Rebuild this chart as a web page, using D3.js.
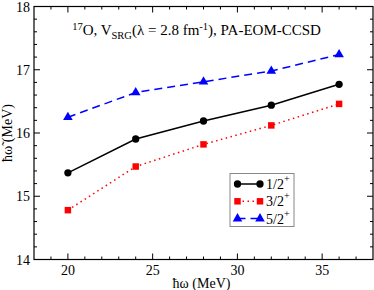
<!DOCTYPE html>
<meta charset="utf-8">
<style>
body { margin: 0; background: #fff; }
text { font-family: "Liberation Serif", "Times New Roman", serif; fill: #000; }
</style>
<body>
<script src="https://cdn.jsdelivr.net/npm/d3@7"></script>
<script>

// hbar omega values (MeV)
var hw = [20, 24, 28, 32, 36];

// energies for each state (MeV)
var e12 = [15.37, 15.905, 16.19, 16.44, 16.77];
var e32 = [14.78, 15.47, 15.82, 16.12, 16.46];
var e52 = [16.25, 16.64, 16.81, 16.98, 17.24];

var xTicks = [20, 25, 30, 35];
var yTicks = [14, 15, 16, 17, 18];

var series = [
  {name: "1/2", vals: e12, color: "#000", dash: null, shape: d3.symbolCircle, size: 42},
  {name: "3/2", vals: e32, color: "#ff0000", dash: "1.5,3.5", shape: d3.symbolSquare, size: 42},
  {name: "5/2", vals: e52, color: "#0000ff", dash: "8,5", shape: d3.symbolTriangle, size: 40}
];

var margin = {top: 6.5, right: 1, bottom: 30.5, left: 34},
    W = 374, H = 290,
    width = W - margin.left - margin.right,
    height = H - margin.top - margin.bottom;

var x = d3.scaleLinear().domain([18, 38]).range([0, width]);
var y = d3.scaleLinear().domain([14, 18]).range([height, 0]);

var svg = d3.select("body").append("svg")
    .attr("width", W).attr("height", H)
  .append("g")
    .attr("transform", "translate(" + margin.left + "," + margin.top + ")");

// frame
svg.append("rect")
    .attr("width", width).attr("height", height)
    .attr("fill", "none").attr("stroke", "#000").attr("stroke-width", 1.2);

var xMinor = d3.range(19, 38, 1).filter(function(d) { return d % 5 != 0; });
var yMinor = d3.range(14.2, 18, 0.2).filter(function(d) { return Math.abs(d - Math.round(d)) > 0.01; });

// ticks (inward, on all four sides)
function ticks(sel, vals, len, horiz) {
  vals.forEach(function(v) {
    if (horiz) {
      sel.append("line").attr("x1", x(v)).attr("x2", x(v)).attr("y1", height).attr("y2", height - len);
      sel.append("line").attr("x1", x(v)).attr("x2", x(v)).attr("y1", 0).attr("y2", len);
    } else {
      sel.append("line").attr("y1", y(v)).attr("y2", y(v)).attr("x1", 0).attr("x2", len);
      sel.append("line").attr("y1", y(v)).attr("y2", y(v)).attr("x1", width).attr("x2", width - len);
    }
  });
}
var tg = svg.append("g").attr("stroke", "#000").attr("stroke-width", 1);
ticks(tg, xTicks, 6, true);
ticks(tg, xMinor, 3, true);
ticks(tg, yTicks.slice(1, -1), 6, false);
ticks(tg, yMinor, 3, false);

// tick labels
svg.selectAll(".xl").data(xTicks).enter().append("text")
    .attr("x", function(d) { return x(d); })
    .attr("y", height + 15)
    .attr("text-anchor", "middle")
    .style("font-size", "14px")
    .text(function(d) { return d; });

svg.selectAll(".yl").data(yTicks).enter().append("text")
    .attr("x", -4)
    .attr("y", function(d) { return y(d) + 5; })
    .attr("text-anchor", "end")
    .style("font-size", "14px")
    .text(function(d) { return d; });

// axis titles
svg.append("text")
    .attr("x", x(28) - 2).attr("y", height + 28)
    .attr("text-anchor", "middle")
    .style("font-size", "14px")
    .text("\u0127\u03c9 (MeV)");

svg.append("text")
    .attr("transform", "translate(" + (-22) + "," + (height / 2) + ") rotate(-90)")
    .attr("text-anchor", "middle")
    .style("font-size", "14px")
    .text("\u0127\u03c9\u0303 (MeV)");

// title
var title = svg.append("text")
    .attr("x", x(20.25)).attr("y", 28)
    .style("font-size", "15px");
title.append("tspan").attr("dy", -5).style("font-size", "10.5px").text("17");
title.append("tspan").attr("dy", 5).text("O, V");
title.append("tspan").attr("dy", 4).style("font-size", "10.5px").text("SRG");
title.append("tspan").attr("dy", -4).text("(\u03bb = 2.8 fm");
title.append("tspan").attr("dy", -5).style("font-size", "10.5px").text("-1");
title.append("tspan").attr("dy", 5).text("), PA-EOM-CCSD");

// lines and markers
var line = d3.line()
    .x(function(d, i) { return x(hw[i]); })
    .y(function(d) { return y(d); });

series.forEach(function(s) {
  svg.append("path")
      .attr("d", line(s.vals))
      .attr("fill", "none")
      .attr("stroke", s.color)
      .attr("stroke-width", 1.5)
      .attr("stroke-dasharray", s.dash);
  svg.selectAll(null).data(s.vals).enter().append("path")
      .attr("transform", function(d, i) { return "translate(" + x(hw[i]) + "," + y(d) + ")"; })
      .attr("d", d3.symbol().type(s.shape).size(s.size))
      .attr("fill", s.color);
});

// legend
var lg = svg.append("g").attr("transform", "translate(" + (230 - margin.left) + "," + (173.5 - margin.top) + ")");
lg.append("rect").attr("width", 64).attr("height", 53)
    .attr("fill", "#fff").attr("stroke", "#888").attr("stroke-width", 1);
series.forEach(function(s, i) {
  var yy = 10.5 + i * 17.3;
  lg.append("line").attr("x1", 7.5).attr("x2", 30).attr("y1", yy).attr("y2", yy)
      .attr("stroke", s.color).attr("stroke-width", 1.5).attr("stroke-dasharray", s.dash);
  [7.5, 30].forEach(function(px) {
    lg.append("path").attr("transform", "translate(" + px + "," + yy + ")")
        .attr("d", d3.symbol().type(s.shape).size(s.size)).attr("fill", s.color);
  });
  var t = lg.append("text").attr("x", 36).attr("y", yy + 5).style("font-size", "14px");
  t.append("tspan").text(s.name);
  t.append("tspan").attr("dy", -7).style("font-size", "10px").text("+");
});

</script>
</body>
